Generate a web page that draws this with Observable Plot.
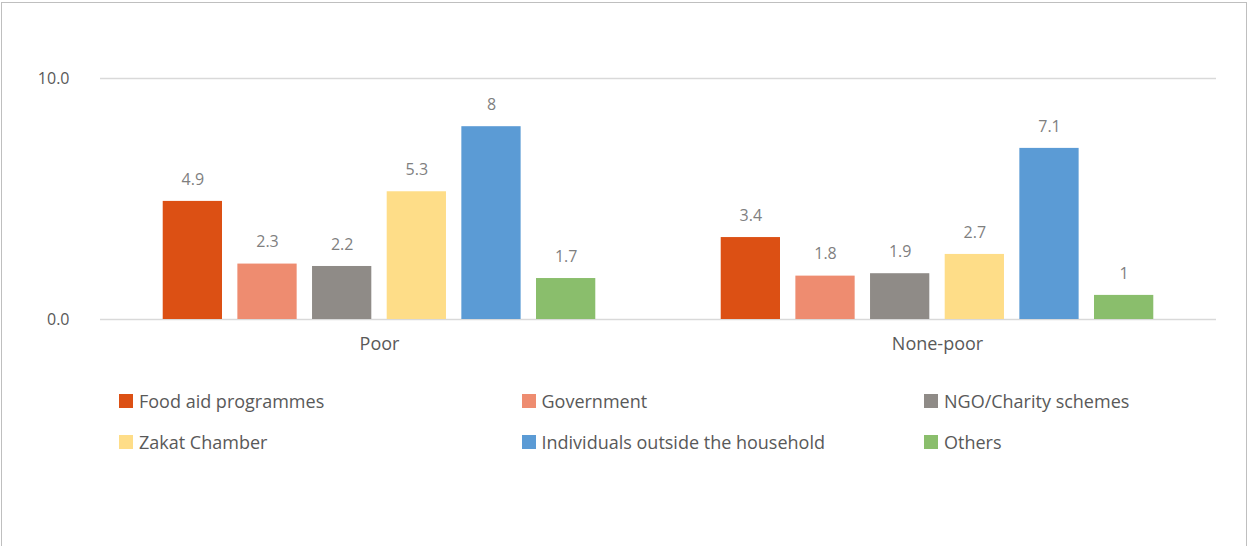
<!DOCTYPE html>
<html>
<head>
<meta charset="utf-8">
<script src="https://cdn.jsdelivr.net/npm/d3@7"></script>
<script src="https://cdn.jsdelivr.net/npm/@observablehq/plot@0.6"></script>
<style>
  html, body { margin: 0; padding: 0; background: #fff; }
  body { width: 1250px; height: 546px; position: relative; overflow: hidden; font-family: "Open Sans", sans-serif; }
  #frame { position: absolute; left: 1px; top: 2px; width: 1246px; height: 600px; border: 1px solid #bfbfbf; box-sizing: border-box; }
  #chart { position: absolute; left: 0; top: 0; }
  .item { position: absolute; display: flex; align-items: center; font-size: 18px; color: #595959; white-space: nowrap; }
  .sw { width: 14px; height: 14px; margin-right: 6px; }
</style>
</head>
<body>
<div id="frame"></div>
<div id="chart"></div>
<div id="legend"></div>
<script>
const groups = ["Poor", "None-poor"];
const sources = ["Food aid programmes", "Government", "NGO/Charity schemes", "Zakat Chamber", "Individuals outside the household", "Others"];
const poorValues = [4.9, 2.3, 2.2, 5.3, 8, 1.7];
const nonPoorValues = [3.4, 1.8, 1.9, 2.7, 7.1, 1];
const colors = ["#DC5014", "#EE8C70", "#8F8B87", "#FEDD88", "#5B9BD5", "#8ABE6C"];
const yTicks = [0, 10];

const data = [];
sources.forEach((s, i) => data.push({group: groups[0], source: s, value: poorValues[i]}));
sources.forEach((s, i) => data.push({group: groups[1], source: s, value: nonPoorValues[i]}));

const chart = Plot.plot({
  width: 1250,
  height: 370,
  marginLeft: 100,
  marginRight: 34,
  marginTop: 78,
  marginBottom: 51,
  style: {color: "#595959", fontFamily: "Open Sans, sans-serif", background: "transparent"},
  fx: {domain: groups, paddingInner: 0, paddingOuter: 0, round: false, label: null, axis: null},
  x: {domain: sources, paddingInner: 0.206, paddingOuter: 0.84, round: false, axis: null},
  y: {domain: [0, 10], axis: null},
  color: {domain: sources, range: colors},
  marks: [
    Plot.ruleY(yTicks, {stroke: "#d9d9d9", strokeWidth: 1.3}),
    Plot.barY(data, {fx: "group", x: "source", y: "value", fill: "source"}),
    Plot.text(data, {fx: "group", x: "source", y: "value", text: d => String(d.value), dy: -22, fill: "#7f7f7f", fontSize: 16}),
    Plot.axisY({ticks: yTicks, tickFormat: d => d.toFixed(1), tickSize: 0, tickPadding: 31, fontSize: 16, label: null}),
    Plot.axisFx({anchor: "bottom", tickSize: 0, tickPadding: 18, fontSize: 18, label: null})
  ]
});
document.getElementById("chart").appendChild(chart);

const legend = document.getElementById("legend");
sources.forEach((s, i) => {
  const col = i % 3, row = Math.floor(i / 3);
  const el = document.createElement("div");
  el.className = "item";
  el.style.left = (119 + col * 402.5) + "px";
  el.style.top = (389 + row * 41) + "px";
  el.style.height = "24px";
  el.innerHTML = `<span class="sw" style="background:${colors[i]}"></span><span>${s}</span>`;
  legend.appendChild(el);
});
</script>
</body>
</html>
